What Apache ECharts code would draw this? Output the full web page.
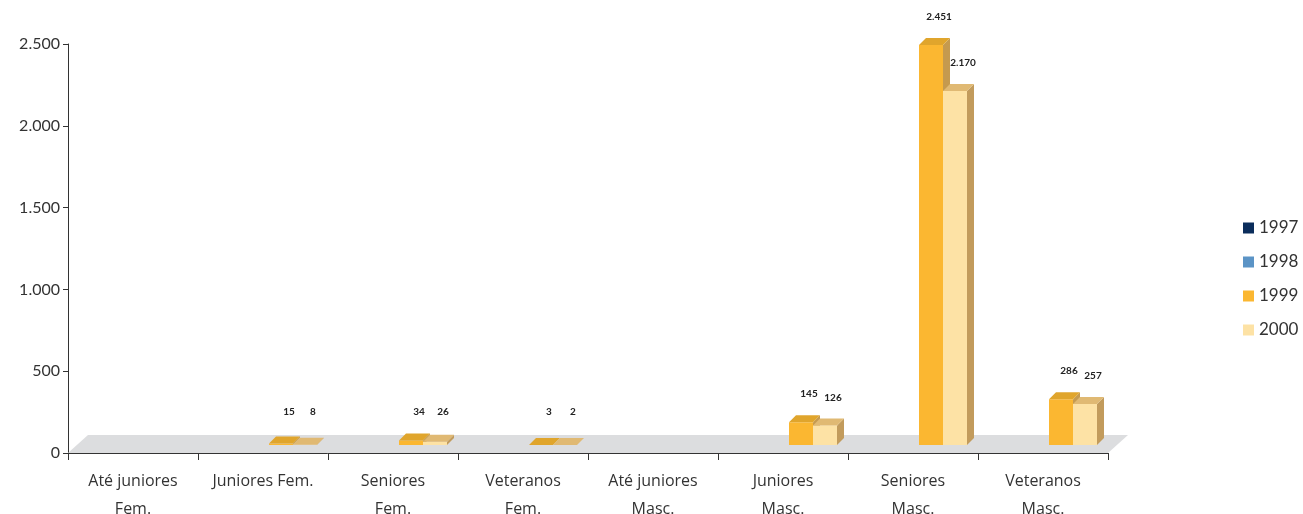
<!DOCTYPE html>
<html><head><meta charset="utf-8">
<script src="https://cdn.jsdelivr.net/npm/echarts@6/dist/echarts.min.js"></script>
<style>html,body{margin:0;padding:0;background:#fff}#c{width:1303px;height:514px}</style>
</head><body><div id="c"></div>
<script>
var categories = ["Até juniores\nFem.", "Juniores Fem.", "Seniores\nFem.", "Veteranos\nFem.", "Até juniores\nMasc.", "Juniores\nMasc.", "Seniores\nMasc.", "Veteranos\nMasc."];
var years = ["1997", "1998", "1999", "2000"];
var values1997 = [null, null, null, null, null, null, null, null];
var values1998 = [null, null, null, null, null, null, null, null];
var values1999 = [null, 15, 34, 3, null, 145, 2451, 286];
var values2000 = [null, 8, 26, 2, null, 126, 2170, 257];
var yTicks = [0, 500, 1000, 1500, 2000, 2500];

var allValues = [values1997, values1998, values1999, values2000];
var fronts = ["#0b2d5b", "#5b94c6", "#fbb731", "#fde2a5"];
var tops = ["#0a2449", "#4a7fae", "#e0a52c", "#e0b973"];
var sides = ["#081e3d", "#416f99", "#c59a4f", "#c29b5c"];

function fmt(n){ return String(n).replace(/\B(?=(\d{3})+(?!\d))/g, "."); }

function barRender(slot){
  return function(params, api){
    var v = api.value(1);
    if (v == null || isNaN(v)) return null;
    var i = api.value(0);
    var c0 = api.coord([i, 0]);
    var c1 = api.coord([i, v]);
    var bw = api.size([1, 0])[0];
    var w = bw * 24 / 130;
    var x = c0[0] + bw * (-42 + 24 * slot) / 130;
    var baseY = c0[1] - 8;
    var topY = Math.min(c1[1] - 7, baseY);
    var dx = 7, dy = -7;
    var children = [
      {type: 'polygon', shape: {points: [[x + w, topY], [x + w + dx, topY + dy], [x + w + dx, baseY + dy], [x + w, baseY]]}, style: {fill: sides[slot]}},
      {type: 'rect', shape: {x: x, y: topY, width: w, height: baseY - topY}, style: {fill: fronts[slot]}},
      {type: 'polygon', shape: {points: [[x, topY], [x + w, topY], [x + w + dx, topY + dy], [x + dx, topY + dy]]}, style: {fill: tops[slot]}},
      {type: 'text', style: {text: fmt(v), x: x + w / 2 + 8, y: Math.min(topY, 440) - 28, align: 'center', verticalAlign: 'middle', fill: '#222', font: 'bold 10px Lato, "Open Sans", sans-serif'}}
    ];
    return {type: 'group', children: children};
  };
}

function floorRender(params, api){
  var bw = api.size([1, 0])[0];
  var a = api.coord([0, 0]);
  var b = api.coord([categories.length - 1, 0]);
  var l = a[0] - bw / 2, r = b[0] + bw / 2, y = a[1];
  return {type: 'polygon', shape: {points: [[l, y], [l + 20, y - 18], [r + 20, y - 18], [r, y]]}, style: {fill: '#dcdddf'}};
}

var series = [{
  type: 'custom', name: 'floor', renderItem: floorRender, data: [[0, 0]], z: 1, silent: true, clip: false
}];
years.forEach(function(y, k){
  series.push({
    type: 'custom', name: y, z: 2 + k, clip: false,
    renderItem: barRender(k),
    itemStyle: {color: fronts[k]},
    data: allValues[k].map(function(v, i){ return [i, v == null ? '-' : v]; })
  });
});

var chart = echarts.init(document.getElementById('c'));
chart.setOption({
  animation: false,
  backgroundColor: '#fff',
  grid: {left: 68, right: 195, top: 44, bottom: 61, containLabel: false, outerBoundsMode: 'none'},
  legend: {
    data: years, orient: 'vertical', left: 1238, top: 213,
    icon: 'rect', itemWidth: 11, itemHeight: 11, itemGap: 14,
    textStyle: {fontSize: 17, color: '#333', fontFamily: 'Lato, "Open Sans", sans-serif', lineHeight: 20}
  },
  xAxis: {
    type: 'category', data: categories, boundaryGap: true,
    axisLine: {lineStyle: {color: '#333', width: 1}},
    axisTick: {show: true, length: 7, interval: 0, lineStyle: {color: '#333'}},
    axisLabel: {interval: 0, fontSize: 16, lineHeight: 28, margin: 14, color: '#333', fontFamily: '"Open Sans", sans-serif'}
  },
  yAxis: {
    type: 'value', min: yTicks[0], max: yTicks[yTicks.length - 1], interval: 500,
    axisLine: {show: true, lineStyle: {color: '#333', width: 1}},
    axisTick: {show: true, length: 5, lineStyle: {color: '#333'}},
    splitLine: {show: false},
    axisLabel: {fontSize: 16, color: '#333', margin: 8, fontFamily: 'Lato, "Open Sans", sans-serif', formatter: function(v){ return fmt(v); }}
  },
  series: series
});
</script></body></html>
